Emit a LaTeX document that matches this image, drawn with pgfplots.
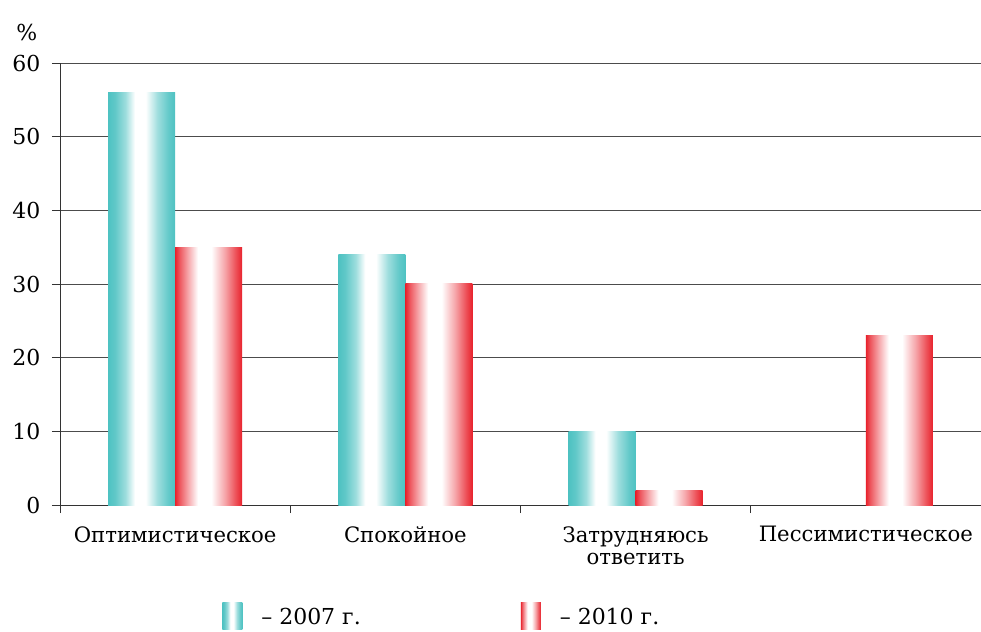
\documentclass[border=0pt]{standalone}
\usepackage{fontspec}
\setmainfont{DejaVu Serif}
\usepackage{pgfplots}
\pgfplotsset{compat=1.18}
\definecolor{tealc}{RGB}{78,194,194}
\definecolor{redc}{RGB}{232,34,44}
% TikZ fits the path's bounding box to the 25bp..75bp part of the shading
\pgfdeclarehorizontalshading{tealbar}{100bp}{color(0bp)=(tealc); color(25bp)=(tealc); color(30bp)=(tealc!90!white); color(38bp)=(tealc!55!white); color(45bp)=(white); color(53bp)=(white); color(62bp)=(tealc!55!white); color(70bp)=(tealc!88!white); color(75bp)=(tealc); color(100bp)=(tealc)}
\pgfdeclarehorizontalshading{redbar}{100bp}{color(0bp)=(redc); color(25bp)=(redc); color(28bp)=(redc!78!white); color(35bp)=(redc!38!white); color(42bp)=(white); color(52bp)=(white); color(62bp)=(redc!40!white); color(70bp)=(redc!78!white); color(75bp)=(redc); color(100bp)=(redc)}
\pgfplotsset{
  tealplot/.style={ybar, bar width=67pt, bar shift=-33.5pt, draw=none, shading=tealbar,
    legend image code/.code={\path[shading=tealbar] (0pt,-13pt) rectangle (20pt,14pt);}},
  redplot/.style={ybar, bar width=67pt, bar shift=33.5pt, draw=none, shading=redbar,
    legend image code/.code={\path[shading=redbar] (0pt,-13pt) rectangle (20pt,14pt);}},
}
\begin{document}
\begin{tikzpicture}
\useasboundingbox (-60pt,-126pt) rectangle (921pt,505pt);
\begin{axis}[
  at={(0,0)}, anchor=south west,
  scale only axis, width=921pt, height=442pt,
  xmin=-0.5, xmax=3.5, ymin=0, ymax=60,
  axis lines*=left,
  axis line style={black!80, line width=0.9pt},
  ytick={0,10,...,60},
  ymajorgrids, grid style={black!70, line width=0.9pt},
  xtick={0,1,2,3},
  xticklabels={Оптимистическое,Спокойное,{Затрудняюсь\\ответить},Пессимистическое},
  minor xtick={-0.5,0.5,1.5,2.5,3.5},
  major x tick style={draw=none},
  tick align=outside,
  major tick length=8pt, minor tick length=8pt,
  tick style={black!80, line width=0.9pt},
  minor tick style={black!80, line width=0.9pt},
  /pgf/number format/assume math mode=true,
  tick label style={font=\fontsize{22}{24}\selectfont},
  xticklabel style={align=center, font=\fontsize{21.2}{22.5}\selectfont, yshift=-10pt},
  yticklabel style={xshift=-8pt},
  legend columns=2,
  legend style={draw=none, at={(axis description cs:0.176,-0.252)}, anchor=west,
    inner sep=0pt, font=\fontsize{22}{24}\selectfont,
    /tikz/every even column/.append style={column sep=158pt}},
  clip=false,
]
\addplot[tealplot] coordinates {(0,56)};
\addlegendentry{\hspace{17pt}– 2007 г.}
\addplot[redplot] coordinates {(0,35)};
\addlegendentry{\hspace{17pt}– 2010 г.}
\addplot[tealplot, forget plot] coordinates {(1,34)};
\addplot[tealplot, forget plot] coordinates {(2,10)};
\addplot[redplot, forget plot] coordinates {(1,30)};
\addplot[redplot, forget plot] coordinates {(2,2)};
\addplot[redplot, forget plot] coordinates {(3,23)};
\node[font=\fontsize{22}{24}\selectfont] at (axis description cs:-0.036,1.07) {\%};
\end{axis}
\end{tikzpicture}
\end{document}
